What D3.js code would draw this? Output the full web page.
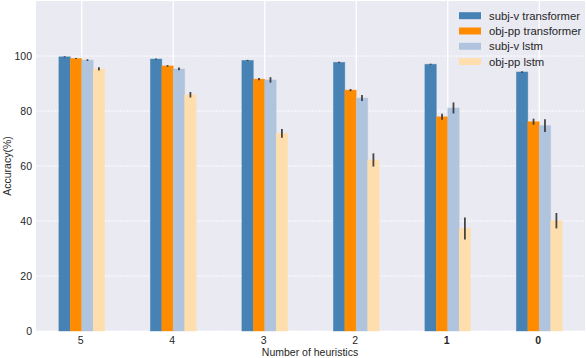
<!DOCTYPE html>
<html><head><meta charset="utf-8">
<script src="https://cdn.jsdelivr.net/npm/d3@7"></script>
<style>body{margin:0;background:#fff;} svg{display:block;font-family:"Liberation Sans",Arial,sans-serif;}</style>
</head><body><svg id="c" width="586" height="358"></svg>
<script>
const categories = ["5","4","3","2","1","0"];
const boldCategories = ["1","0"];
const seriesNames = ["subj-v transformer","obj-pp transformer","subj-v lstm","obj-pp lstm"];
const seriesColors = ["#4682B4","#FF8C00","#B0C4DE","#FFDEAD"];
const subjvTransformer = [99.7, 98.9, 98.4, 97.7, 97.0, 94.2];
const objppTransformer = [99.1, 96.4, 91.6, 87.6, 77.9, 76.1];
const subjvLstm        = [98.5, 95.3, 91.3, 84.7, 81.1, 74.7];
const objppLstm        = [95.3, 85.9, 71.9, 62.2, 37.3, 40.1];
const subjvTransformerErr = [0.2, 0.2, 0.2, 0.2, 0.2, 0.3];
const objppTransformerErr = [0.2, 0.3, 0.4, 0.4, 1.1, 1.1];
const subjvLstmErr        = [0.3, 0.5, 1.0, 1.1, 2.0, 2.3];
const objppLstmErr        = [0.6, 1.0, 1.6, 2.4, 4.0, 2.8];
const yTicks = [0,20,40,60,80,100];

const values = [subjvTransformer, objppTransformer, subjvLstm, objppLstm];
const errs = [subjvTransformerErr, objppTransformerErr, subjvLstmErr, objppLstmErr];

const svg = d3.select("#c");
const L = 36, R = 585, T = 1, B = 331;
const x = d3.scaleBand().domain(categories).range([L, R]).padding(0);
const y = d3.scaleLinear().domain([0, 120]).range([B, T]);
const inner = d3.scaleBand().domain(seriesNames).range([-x.bandwidth()/4, x.bandwidth()/4]);

svg.append("rect").attr("x", L).attr("y", T).attr("width", R-L).attr("height", B-T).attr("fill", "#EAEAF2");

svg.append("g").selectAll("line").data(yTicks).join("line")
  .attr("x1", L).attr("x2", R).attr("y1", d => y(d)).attr("y2", d => y(d))
  .attr("stroke", "#fff").attr("stroke-width", 1).attr("stroke-dasharray", "2,1");
svg.append("g").selectAll("line").data(categories).join("line")
  .attr("x1", d => x(d) + x.bandwidth()/2).attr("x2", d => x(d) + x.bandwidth()/2)
  .attr("y1", T).attr("y2", B).attr("stroke", "#fff").attr("stroke-width", 1.3);

seriesNames.forEach((s, si) => {
  svg.append("g").selectAll("rect").data(categories).join("rect")
    .attr("x", (d) => x(d) + x.bandwidth()/2 + inner(s))
    .attr("y", (d, i) => y(values[si][i]))
    .attr("width", inner.bandwidth())
    .attr("height", (d, i) => B - y(values[si][i]))
    .attr("fill", seriesColors[si])
    .attr("stroke", seriesColors[si]).attr("stroke-opacity", 0.5).attr("stroke-width", 0.8);
});
seriesNames.forEach((s, si) => {
  svg.append("g").selectAll("line").data(categories).join("line")
    .attr("x1", d => x(d) + x.bandwidth()/2 + inner(s) + inner.bandwidth()/2)
    .attr("x2", d => x(d) + x.bandwidth()/2 + inner(s) + inner.bandwidth()/2)
    .attr("y1", (d, i) => y(values[si][i] + errs[si][i]))
    .attr("y2", (d, i) => y(values[si][i] - errs[si][i]))
    .attr("stroke", "#333").attr("stroke-width", 1.8).attr("stroke-opacity", 0.9);
});

svg.append("g").selectAll("text").data(yTicks).join("text")
  .attr("x", 32).attr("y", d => y(d)).attr("dy", "0.35em").attr("text-anchor", "end")
  .attr("font-size", 10.5).attr("fill", "#262626").text(d => d);
svg.append("g").selectAll("text").data(categories).join("text")
  .attr("x", d => x(d) + x.bandwidth()/2 - 1).attr("y", 344).attr("text-anchor", "middle")
  .attr("font-size", 10.5).attr("fill", "#262626")
  .attr("font-weight", d => boldCategories.includes(d) ? "bold" : "normal").text(d => d);
svg.append("text").attr("x", 310).attr("y", 356).attr("text-anchor", "middle")
  .attr("font-size", 10.5).attr("fill", "#262626").text("Number of heuristics");
svg.append("text").attr("transform", `translate(11,${(T+B)/2}) rotate(-90)`).attr("text-anchor", "middle")
  .attr("font-size", 10.5).attr("fill", "#262626").text("Accuracy(%)");

const lg = svg.append("g");
seriesNames.forEach((s, i) => {
  const cy = 15.7 + i * 15.3;
  lg.append("rect").attr("x", 459).attr("y", cy - 3.5).attr("width", 22).attr("height", 7).attr("fill", seriesColors[i]);
  lg.append("text").attr("x", 489).attr("y", cy).attr("dy", "0.35em").attr("font-size", 11.3).attr("fill", "#262626").text(s);
});
</script></body></html>
